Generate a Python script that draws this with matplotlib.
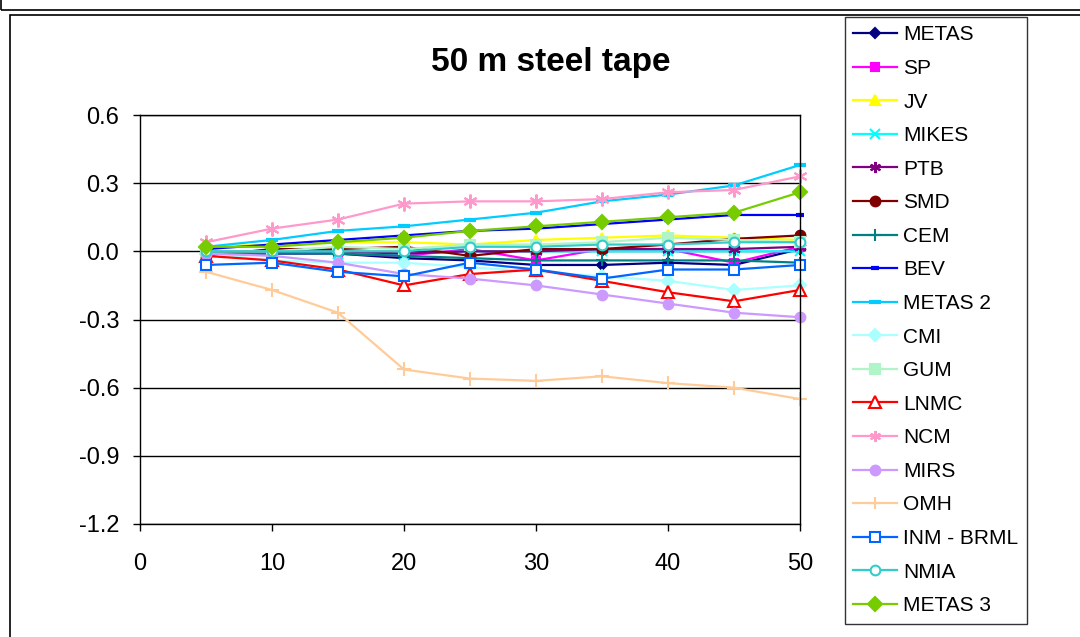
import matplotlib as mpl
mpl.use("agg")
import matplotlib.pyplot as plt
from matplotlib.patches import Rectangle

plt.rcParams["font.family"] = ["Liberation Sans", "DejaVu Sans"]

# length along the tape (m)
lengths = [5, 10, 15, 20, 25, 30, 35, 40, 45, 50]

labs = ["METAS", "SP", "JV", "MIKES", "PTB", "SMD", "CEM", "BEV", "METAS 2",
        "CMI", "GUM", "LNMC", "NCM", "MIRS", "OMH", "INM - BRML", "NMIA", "METAS 3"]

metas   = [-0.01, -0.01, -0.01, -0.03, -0.04, -0.06, -0.06, -0.05, -0.06, 0.01]
sp      = [-0.01, -0.01, -0.01, -0.02, 0.01, -0.04, 0.01, 0.01, -0.05, 0.02]
jv      = [0.02, 0.03, 0.04, 0.04, 0.03, 0.05, 0.06, 0.07, 0.06, 0.05]
mikes   = [0.00, 0.00, -0.01, -0.01, 0.00, 0.00, 0.00, 0.00, 0.00, 0.00]
ptb     = [0.00, 0.00, 0.00, -0.01, 0.00, 0.00, 0.01, 0.01, 0.01, 0.02]
smd     = [-0.02, 0.01, 0.01, 0.02, -0.02, 0.01, 0.01, 0.03, 0.055, 0.07]
cem     = [-0.01, -0.01, -0.01, -0.02, -0.03, -0.04, -0.04, -0.04, -0.04, -0.05]
bev     = [0.01, 0.03, 0.05, 0.07, 0.09, 0.10, 0.12, 0.14, 0.16, 0.16]
metas2  = [0.02, 0.05, 0.09, 0.11, 0.14, 0.17, 0.22, 0.25, 0.29, 0.38]
cmi     = [-0.01, -0.04, -0.05, -0.05, -0.07, -0.09, -0.11, -0.13, -0.17, -0.15]
gum     = [0.00, 0.00, 0.02, 0.01, 0.03, 0.03, 0.04, 0.06, 0.05, 0.04]
lnmc    = [-0.02, -0.04, -0.08, -0.15, -0.10, -0.08, -0.13, -0.18, -0.22, -0.17]
ncm     = [0.04, 0.10, 0.14, 0.21, 0.22, 0.22, 0.23, 0.26, 0.27, 0.33]
mirs    = [-0.01, -0.02, -0.05, -0.10, -0.12, -0.15, -0.19, -0.23, -0.27, -0.29]
omh     = [-0.09, -0.17, -0.27, -0.52, -0.56, -0.57, -0.55, -0.58, -0.60, -0.65]
inm     = [-0.06, -0.05, -0.09, -0.11, -0.05, -0.08, -0.12, -0.08, -0.08, -0.06]
nmia    = [0.00, 0.00, 0.00, 0.00, 0.02, 0.02, 0.03, 0.03, 0.04, 0.04]
metas3  = [0.02, 0.02, 0.04, 0.06, 0.09, 0.11, 0.13, 0.15, 0.17, 0.26]

values = [metas, sp, jv, mikes, ptb, smd, cem, bev, metas2,
          cmi, gum, lnmc, ncm, mirs, omh, inm, nmia, metas3]

colors = ["#000080", "#ff00ff", "#ffff00", "#00ffff", "#800080", "#800000",
          "#008080", "#0000ff", "#00ccff", "#aaffff", "#b0f5c8", "#ff0000",
          "#ff99cc", "#cc99ff", "#ffcc99", "#0066ff", "#33cccc", "#77cc00"]
asterisk = (6, 2, 0)
markers = ["D", "s", "^", "x", asterisk, "o", "+", "_", "_",
           "D", "s", "^", asterisk, "o", "+", "s", "o", "D"]
open_face = {"LNMC", "INM - BRML", "NMIA"}
msizes = [5, 6, 7, 7, 9, 7, 9, 6, 8, 6, 7, 8, 10, 7, 10, 7, 7, 7]

fig = plt.figure(figsize=(10.8, 6.37), dpi=100)
ax = fig.add_axes([140 / 1080, 1 - 524 / 637, 660 / 1080, 409 / 637])

for lab, vals, c, m, ms in zip(labs, values, colors, markers, msizes):
    mew = 3 if m == "_" else 1.5
    face = "white" if lab in open_face else c
    ax.plot(lengths, vals, color=c, lw=1.6, marker=m, ms=ms, mfc=face,
            mec=c, mew=mew, label=lab, clip_on=False)

ax.set_xlim(0, 50)
ax.set_ylim(-1.2, 0.6)
ax.set_xticks(range(0, 51, 10))
ax.set_yticks([0.6, 0.3, 0.0, -0.3, -0.6, -0.9, -1.2])
ax.set_yticklabels(["0.6", "0.3", "0.0", "-0.3", "-0.6", "-0.9", "-1.2"])
ax.tick_params(labelsize=17, length=5, width=1, direction="out")
ax.tick_params(axis="x", pad=16)
ax.tick_params(axis="y", pad=10)
ax.yaxis.grid(True, color="black", lw=1)
ax.set_axisbelow(True)
for s in ax.spines.values():
    s.set_linewidth(1)

fig.text(551 / 1080, 1 - 62 / 637, "50 m steel tape", ha="center", va="center",
         fontsize=24, fontweight="bold")

leg = fig.legend(loc="upper left", bbox_to_anchor=(845 / 1080, 1 - 17 / 637),
                 fontsize=15, frameon=True, fancybox=False, edgecolor="black",
                 handlelength=2.1, labelspacing=0.7, borderpad=0.4,
                 handletextpad=0.3, borderaxespad=0)
leg.get_frame().set_linewidth(1)
for h in leg.legend_handles:
    h.set_markersize(min(h.get_markersize(), 8))

# outer chart frames
fig.patches.append(Rectangle((1 / 1080, 1 - 10 / 637), 1.1, 0.2, transform=fig.transFigure,
                             fill=False, edgecolor="black", lw=1.2))
fig.patches.append(Rectangle((10 / 1080, -0.1), 1.1, 1 - 15 / 637 + 0.1,
                             transform=fig.transFigure, fill=False,
                             edgecolor="black", lw=1.2))

fig.savefig("out.png", dpi=100)
